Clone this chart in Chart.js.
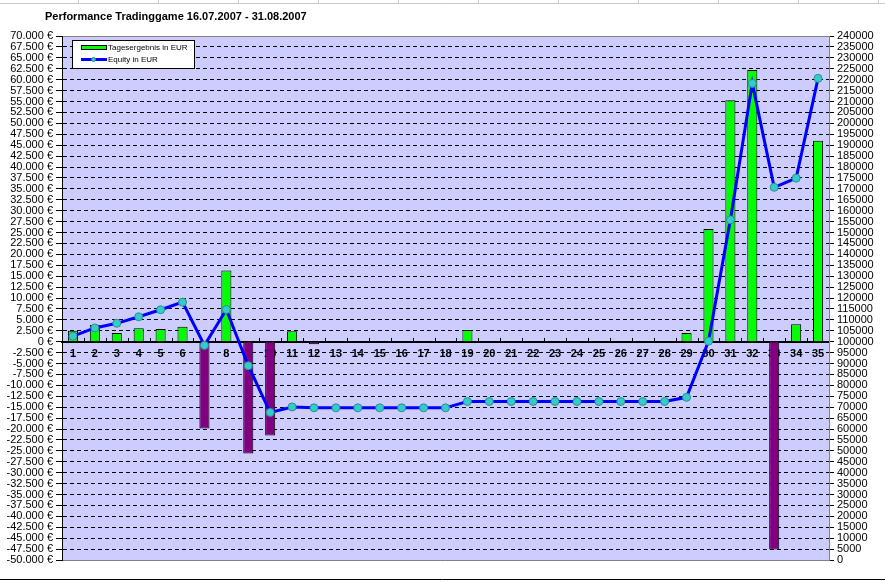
<!DOCTYPE html>
<html>
<head>
<meta charset="utf-8">
<title>Performance Tradinggame</title>
<script src="https://cdn.jsdelivr.net/npm/chart.js@4.4.1/dist/chart.umd.min.js"></script>
<style>
  html, body { margin: 0; padding: 0; background: #fff; }
  #wrap { width: 885px; height: 582px; }
</style>
</head>
<body>
<div id="wrap"><canvas id="perfChart" width="885" height="582"></canvas></div>
<script>
// Handelstage 1..35
var tage = ['1','2','3','4','5','6','7','8','9','10','11','12','13','14','15','16','17','18',
            '19','20','21','22','23','24','25','26','27','28','29','30','31','32','33','34','35'];

// Tagesergebnis in EUR (linke Achse)
var tagesergebnis = [2500, 3800, 2000, 3100, 2900, 3400, -19900, 16300, -25600, -21500,
                     2400, -600, 0, 0, 0, 0, -300, 0, 2700, 0,
                     0, 0, 0, 0, 0, 0, 0, 0, 2000, 25800,
                     55300, 62200, -47600, 4000, 46000];

// Equity in EUR (rechte Achse)
var equity = [102500, 106300, 108400, 111400, 114600, 118100, 98300, 114700, 89000, 67600,
              70100, 69700, 69700, 69700, 69700, 69700, 69700, 69700, 72600, 72600,
              72600, 72600, 72600, 72600, 72600, 72600, 72600, 72600, 74500, 100200,
              155800, 218300, 170700, 174900, 220600];

var linksMin = -50000, linksMax = 70000, linksStep = 2500;
var rechtsMin = 0, rechtsMax = 240000, rechtsStep = 5000;

function euro(v) {
  if (v === 0) return '0 €';
  var s = Math.abs(v).toString().replace(/\B(?=(\d{3})+(?!\d))/g, '.');
  return (v < 0 ? '-' : '') + s + ' €';
}

var FONT = '"Liberation Sans", Arial, sans-serif';

// Hintergrund der Zeichenfläche + Tabellenraster oben
var hintergrund = {
  id: 'hintergrund',
  beforeDraw: function(chart) {
    var c = chart.ctx, a = chart.chartArea;
    c.save();
    c.fillStyle = '#ffffff';
    c.fillRect(0, 0, chart.width, chart.height);
    c.strokeStyle = '#c8c8c8';
    c.lineWidth = 1;
    c.beginPath();
    c.moveTo(0, 3.5); c.lineTo(chart.width, 3.5);
    for (var x = 78; x < chart.width; x += 80) { c.moveTo(x + 0.5, 0); c.lineTo(x + 0.5, 3); }
    c.stroke();
    c.fillStyle = '#ccccff';
    c.fillRect(a.left, a.top, a.right - a.left, a.bottom - a.top);
    c.restore();
  },
  afterDraw: function(chart) {
    var c = chart.ctx, a = chart.chartArea;
    var xs = chart.scales.x, ys = chart.scales.y;
    c.save();
    // kleine Teilstriche an den Kategoriegrenzen (nach oben)
    var y0 = Math.round(ys.getPixelForValue(0));
    var halb = (xs.getPixelForValue(1) - xs.getPixelForValue(0)) / 2;
    c.strokeStyle = '#000';
    c.lineWidth = 1;
    c.beginPath();
    for (var i = 1; i < tage.length; i++) {
      var px = Math.round(xs.getPixelForValue(i) - halb) + 0.5;
      c.moveTo(px, y0 - 1); c.lineTo(px, y0 - 4);
    }
    c.stroke();

    // Rahmen der Zeichenfläche
    c.strokeStyle = '#808080';
    c.beginPath();
    c.moveTo(a.left, a.top + 0.5); c.lineTo(a.right + 0.5, a.top + 0.5);
    c.lineTo(a.right + 0.5, a.bottom + 0.5); c.lineTo(a.left, a.bottom + 0.5);
    c.stroke();
    c.strokeStyle = '#000';
    c.beginPath();
    c.moveTo(a.left + 0.5, a.top); c.lineTo(a.left + 0.5, a.bottom + 1);
    c.stroke();
    c.beginPath();
    c.moveTo(0, 579.5); c.lineTo(chart.width, 579.5);
    c.stroke();

    // Titel
    c.fillStyle = '#000';
    c.font = 'bold 11px ' + FONT;
    c.textBaseline = 'middle';
    c.textAlign = 'left';
    c.fillText('Performance Tradinggame 16.07.2007 - 31.08.2007', 45, 17);

    // Legende
    c.fillStyle = '#fff';
    c.fillRect(72, 40, 122, 28);
    c.strokeStyle = '#000';
    c.strokeRect(72.5, 40.5, 122, 28);
    c.fillStyle = '#00ff00';
    c.fillRect(81, 46, 25, 4);
    c.strokeRect(81.5, 45.5, 25, 4);
    c.strokeStyle = '#0000ff';
    c.lineWidth = 3;
    c.beginPath(); c.moveTo(81, 59.5); c.lineTo(107, 59.5); c.stroke();
    c.fillStyle = '#33cccc';
    c.strokeStyle = '#2f8f8f';
    c.lineWidth = 1;
    c.beginPath(); c.arc(93.5, 59.5, 2, 0, Math.PI * 2); c.fill(); c.stroke();
    c.fillStyle = '#000';
    c.font = '8px ' + FONT;
    c.fillText('Tagesergebnis in EUR', 108, 48);
    c.fillText('Equity in EUR', 108, 60);
    c.restore();
  }
};

var ctx = document.getElementById('perfChart');
var perfChart = new Chart(ctx, {
  data: {
    labels: tage,
    datasets: [
      {
        type: 'line',
        label: 'Equity in EUR',
        data: equity,
        yAxisID: 'y2',
        order: 0,
        borderColor: '#0000ff',
        borderWidth: 3,
        tension: 0,
        pointRadius: 4,
        pointBackgroundColor: '#33cccc',
        pointBorderColor: '#2f8f8f',
        pointBorderWidth: 1
      },
      {
        type: 'bar',
        label: 'Tagesergebnis in EUR',
        data: tagesergebnis,
        yAxisID: 'y',
        order: 1,
        backgroundColor: function(c) { return c.raw < 0 ? '#800080' : '#00ff00'; },
        borderColor: '#000',
        borderWidth: 1,
        categoryPercentage: 1,
        barPercentage: 0.46
      }
    ]
  },
  options: {
    responsive: false,
    animation: false,
    devicePixelRatio: 1,
    layout: { padding: { top: 36, bottom: 22, left: 0, right: 0 } },
    plugins: {
      legend: { display: false },
      title: { display: false },
      tooltip: { enabled: false }
    },
    scales: {
      x: {
        position: { y: 0 },
        offset: true,
        grid: { display: true, drawOnChartArea: false, drawTicks: false, color: '#000' },
        border: { display: true, color: '#000', width: 2 },
        ticks: {
          autoSkip: false, maxRotation: 0, padding: 6, color: '#000',
          font: { family: FONT, size: 11, weight: 'bold' }
        }
      },
      y: {
        position: 'left',
        min: linksMin, max: linksMax,
        afterFit: function(s) { s.width = 62; },
        grid: { color: '#000', lineWidth: 1, tickLength: 6, tickColor: '#000' },
        border: { display: true, color: '#000', width: 1, dash: [4, 3] },
        ticks: {
          stepSize: linksStep, autoSkip: false, padding: 3, color: '#000',
          font: { family: FONT, size: 11 },
          callback: function(v) { return euro(v); }
        }
      },
      y2: {
        position: 'right',
        min: rechtsMin, max: rechtsMax,
        afterFit: function(s) { s.width = 56; },
        grid: { drawOnChartArea: false, tickLength: 5, color: '#000' },
        border: { display: true, color: '#808080', width: 1 },
        ticks: {
          stepSize: rechtsStep, autoSkip: false, padding: 3, color: '#000',
          font: { family: FONT, size: 11 },
          callback: function(v) { return String(v); }
        }
      }
    }
  },
  plugins: [hintergrund]
});
</script>
</body>
</html>
